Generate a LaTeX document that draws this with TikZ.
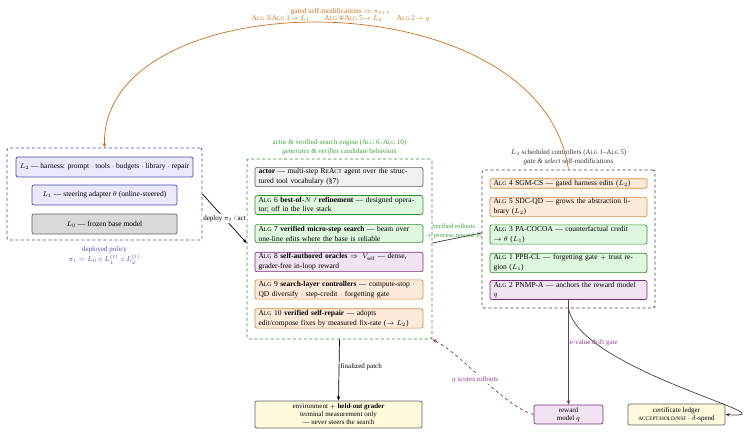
\documentclass[tikz,border=0pt]{standalone}
\usepackage{fontspec}
\setmainfont{Liberation Serif}
\usetikzlibrary{arrows.meta,calc}
\definecolor{indC}{HTML}{4B4BAE}
\definecolor{indF}{HTML}{E9E9FB}
\definecolor{grnC}{HTML}{2F8F2F}
\definecolor{grnF}{HTML}{DFF7DF}
\definecolor{grnT}{HTML}{3C9C3C}
\definecolor{orgC}{HTML}{D98A3A}
\definecolor{orgF}{HTML}{FDEADA}
\definecolor{orgT}{HTML}{C8701E}
\definecolor{purC}{HTML}{7A2C7E}
\definecolor{purF}{HTML}{F1E3F1}
\definecolor{purT}{HTML}{8E3C92}
\definecolor{gryC}{HTML}{606060}
\definecolor{gryF}{HTML}{D9D9D9}
\definecolor{actF}{HTML}{F0F0F0}
\definecolor{ylwF}{HTML}{FFFADC}
\makeatletter
\newcommand\scsz{\fontsize{\strip@pt\dimexpr 0.76\dimexpr\f@size pt\relax\relax}{\f@baselineskip}\selectfont}
\makeatother
\newcommand\Alg{A{\scsz LG}}
\newcommand\ReActN{R{\scsz E}A{\scsz CT}}
\newcommand\bfont{\fontsize{7.5}{9.8}\selectfont}
\newcommand\sfontb{\fontsize{7}{8.5}\selectfont}
\newcommand\rfont{\fontsize{6.6}{9}\selectfont}
\newcommand\tfont{\fontsize{7.3}{7.6}\selectfont}
\begin{document}
\begin{tikzpicture}[x=1pt,y=-1pt,
  bx/.style={draw, rounded corners=2pt, line width=0.7pt, inner xsep=3.5pt, inner ysep=1.3pt,
    font=\bfont, text width=#1,
    execute at begin node={\rightskip=0pt plus 2em\relax\hyphenpenalty=50\relax}},
  cbx/.style={draw, rounded corners=2pt, line width=0.7pt, inner xsep=3pt, inner ysep=1.3pt,
    font=\bfont, align=center},
  grn/.style={fill=grnF, draw=grnC},
  org/.style={fill=orgF, draw=orgC},
  pur/.style={fill=purF, draw=purC},
  ind/.style={fill=indF, draw=indC},
  gry/.style={fill=gryF, draw=gryC},
  outer/.style={draw, line width=0.8pt, dash pattern=on 3pt off 2.5pt, rounded corners=2pt, inner sep=0pt},
  arr/.style={-{Stealth[length=4.5pt,width=3.5pt]}, line width=0.7pt},
  lbl/.style={font=\bfont, align=center, inner sep=1pt}
]
\useasboundingbox (0,0) rectangle (749,435);

% ---------- deployed policy ----------
\node[outer, draw=indC, minimum width=195pt, minimum height=92pt] (policy) at (104.5,194) {};
\node[cbx, ind, minimum width=177pt, minimum height=20pt] (L2) at (104.5,167) {$L_2$ --- harness: prompt $\cdot$ tools $\cdot$ budgets $\cdot$ library $\cdot$ repair};
\node[cbx, ind, minimum width=145pt, minimum height=20pt] (L1) at (104.5,195) {$L_1$ --- steering adapter $\theta$ (online-steered)};
\node[cbx, gry, minimum width=145pt, minimum height=20pt] (L0) at (104.5,224) {$L_0$ --- frozen base model};
\node[lbl, text=indC, font=\sfontb] (polT) at (104.5,255.5) {deployed policy\\ $\pi_t = L_0 \circ L_1^{(t)} \circ L_2^{(t)}$};

% ---------- engine ----------
\node[outer, draw=grnC, minimum width=185pt, minimum height=180pt] (engine) at (339.5,249) {};
\node[lbl, text=grnT, font=\sfontb] (engT) at (339.5,147.5) {actor \& verified-search engine (\Alg~6--\Alg~10)\\ \textit{generates \& verifies} candidate behaviors};
\node[bx=161pt, fill=actF, draw=gryC] (actor) at (339,177) {\textbf{actor} --- multi-step \ReActN{} agent over the structured tool vocabulary (§7)};
\node[bx=161pt, grn] (a6) at (339,205) {\Alg~6 \textbf{best-of-$N$ / refinement} --- designed operator; off in the live stack};
\node[bx=161pt, grn] (a7) at (339,233.5) {\Alg~7 \textbf{verified micro-step search} --- beam over one-line edits where the base is reliable};
\node[bx=161pt, pur] (a8) at (339,262) {\Alg~8 \textbf{self-authored oracles} $\Rightarrow V_{\mathrm{self}}$ --- dense, grader-free in-loop reward};
\node[bx=161pt, org] (a9) at (339,289.5) {\Alg~9 \textbf{search-layer controllers} --- compute-stop $\cdot$ QD diversify $\cdot$ step-credit $\cdot$ forgetting gate};
\node[bx=161pt, org] (a10) at (339,318.5) {\Alg~10 \textbf{verified self-repair} --- adopts\newline edit/compose fixes by measured fix-rate ($\to L_2$)};

% ---------- L3 controllers ----------
\node[outer, draw=gryC!70!black, minimum width=173pt, minimum height=138pt] (L3) at (568.5,239) {};
\node[lbl, text=black!80, font=\sfontb] (L3T) at (568.5,157.5) {$L_3$ scheduled controllers (\Alg~1--\Alg~5)\\ \textit{gate \& select} self-modifications};
\node[bx=150pt, org] (a4) at (568.5,183.5) {\Alg~4 SGM-CS --- gated harness edits ($L_2$)};
\node[bx=150pt, org] (a5) at (568.5,207) {\Alg~5 SDC-QD --- grows the abstraction library ($L_2$)};
\node[bx=150pt, grn] (a3) at (568.5,234.5) {\Alg~3 PA-COCOA --- counterfactual credit\newline $\to \theta$ ($L_1$)};
\node[bx=150pt, grn] (a1) at (568.5,263) {\Alg~1 PPB-CL --- forgetting gate $+$ trust region ($L_1$)};
\node[bx=150pt, pur] (a2) at (568.5,290) {\Alg~2 PNMP-A --- anchors the reward model\newline $q$};

% ---------- bottom ----------
\node[cbx, fill=ylwF, draw=gryC, minimum width=167pt, minimum height=27pt, font=\sfontb, execute at begin node={\baselineskip=8pt}] (env) at (338.5,414.5) {environment $+$ \textbf{held-out grader}\\ terminal measurement only\\ --- never steers the search};
\node[cbx, pur, minimum width=69pt, minimum height=19pt, font=\sfontb, execute at begin node={\baselineskip=8pt}] (rm) at (568.5,414.5) {reward\\ model $q$};
\node[cbx, fill=ylwF, draw=gryC, minimum width=97pt, minimum height=21pt, font=\sfontb, execute at begin node={\baselineskip=8pt}] (ledger) at (676.5,414.5) {certificate ledger\\ {\scsz ACCEPT/HOLD/NSF} $\cdot$ $\delta$-spend};

% ---------- connectors ----------
\draw[arr, orgT] (L3.north) .. controls +(-28,-195) and +(-4,-168) .. (policy.north)
  node[pos=0.5, above=-3.5pt, xshift=16pt, font=\tfont, align=center, text=orgT] {gated self-modifications $\Rightarrow \pi_{t+1}$\\ \Alg~3/\Alg~1$\to L_1$\qquad \Alg~4/\Alg~5$\to L_2$\qquad \Alg~2$\to q$};

\draw[arr, black] (policy.east) -- ([yshift=6pt]engine.west)
  node[midway, fill=white, lbl, font=\sfontb] {deploy $\pi_t$ / act};

\draw[line width=0.7pt, black!80] ([yshift=6pt]engine.east) -- ([yshift=6pt]L3.west)
  node[midway, above=-1pt, xshift=-3pt, lbl, inner sep=0pt, font=\rfont, text=grnT] {verified rollouts\\ $+$ process reward $\bar{R}$};

\draw[arr, black] (engine.south) -- (env.north)
  node[pos=0.45, right=0pt, lbl, font=\sfontb] {finalized patch};

\draw[arr, purC] (a2.south) -- (rm.north)
  node[pos=0.41, right=0pt, lbl, font=\sfontb, text=purT] {e-value drift gate};

\draw[arr, black!75] (L3.south) .. controls +(11,62) and +(74,5) .. (ledger.east);

\draw[arr, purC, dashed] (rm.west) .. controls +(-30,-8) and +(30,15) .. (engine.south east)
  node[pos=0.5, xshift=-8pt, lbl, font=\sfontb, text=purT, fill=white] {$q$ scores rollouts};
\end{tikzpicture}
\end{document}
